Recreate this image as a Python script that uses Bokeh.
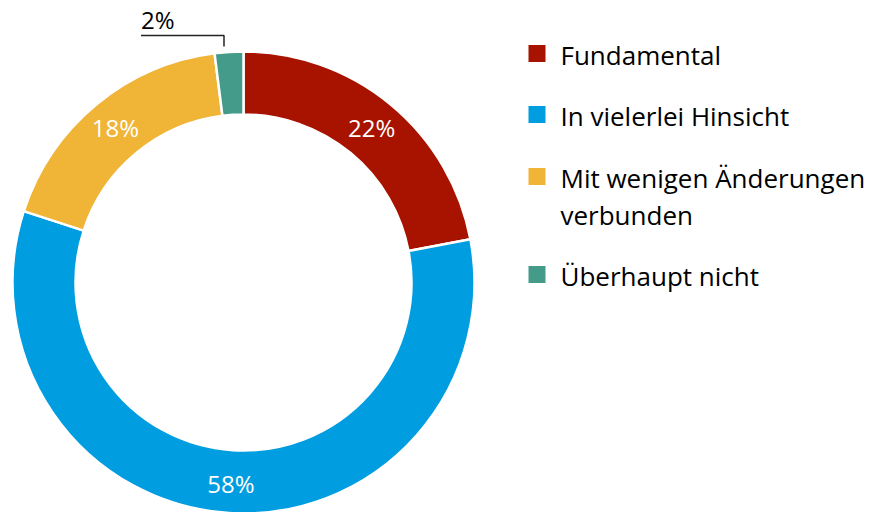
import numpy as np
from bokeh.plotting import figure
from bokeh.models import Range1d, ColumnDataSource
from bokeh.embed import file_html
from bokeh.resources import INLINE
from bokeh.core.properties import value

# ---- data ----
categories = ["Fundamental", "In vielerlei Hinsicht",
              "Mit wenigen Änderungen\nverbunden", "Überhaupt nicht"]
shares = [22, 58, 18, 2]
pct_labels = ["22%", "58%", "18%", "2%"]
colors = ["#A81300", "#009DE0", "#F0B436", "#449B8A"]

FONT = "Open Sans"
W, H = 879, 512

p = figure(width=W, height=H, x_range=Range1d(0, W), y_range=Range1d(0, H),
           output_backend="svg", toolbar_location=None, min_border=0)
p.axis.visible = False
p.grid.visible = False
p.outline_line_color = None
p.background_fill_color = "white"
p.border_fill_color = "white"

cx, cy = 243, H - 282
r_in, r_out = 168, 231

frac = np.array(shares, dtype=float) / sum(shares)
cum = np.concatenate([[0.0], np.cumsum(frac)])
start = np.pi / 2 - cum[:-1] * 2 * np.pi
end = np.pi / 2 - cum[1:] * 2 * np.pi
mid = (start + end) / 2

src = ColumnDataSource(dict(start=start, end=end, color=colors))
p.annular_wedge(x=cx, y=cy, inner_radius=r_in, outer_radius=r_out,
                start_angle="start", end_angle="end", direction="clock",
                fill_color="color", line_color="white", line_width=2.5,
                source=src)

# inside labels (white)
r_lab = 201
inside = [i for i in range(len(shares)) if shares[i] >= 5]
lx = [cx + r_lab * np.cos(mid[i]) for i in inside]
ly = [cy + r_lab * np.sin(mid[i]) for i in inside]
p.text(x=lx, y=ly, text=[pct_labels[i] for i in inside], text_color="white",
       text_font=value(FONT), text_font_size="24px", text_align="center",
       text_baseline="middle")

# outside label with leader for small slice
for i in range(len(shares)):
    if shares[i] < 5:
        ax = cx + r_out * np.cos(mid[i]) - 5
        ay = cy + r_out + 5
        p.line(x=[ax, ax, ax - 83], y=[ay, ay + 11, ay + 11],
               line_color="#222222", line_width=1.5)
        p.text(x=[ax - 83], y=[ay + 27.5], text=[pct_labels[i]],
               text_color="black", text_font=value(FONT),
               text_font_size="24px", text_align="left",
               text_baseline="middle")

# legend
sq_x = 536.5
sq_y = [H - 53, H - 114, H - 176, H - 274]
p.rect(x=[sq_x] * len(categories), y=sq_y, width=17, height=17,
       fill_color=colors, line_color=None)
tx, ty, tt = [], [], []
for i, cat in enumerate(categories):
    for j, line in enumerate(cat.split("\n")):
        tx.append(560)
        ty.append(sq_y[i] - 1 - 37 * j)
        tt.append(line)
p.text(x=tx, y=ty, text=tt, text_color="#000000", text_font=value(FONT),
       text_font_size="26px", text_align="left", text_baseline="middle")

open("out.html", "w").write(file_html(p, INLINE))
